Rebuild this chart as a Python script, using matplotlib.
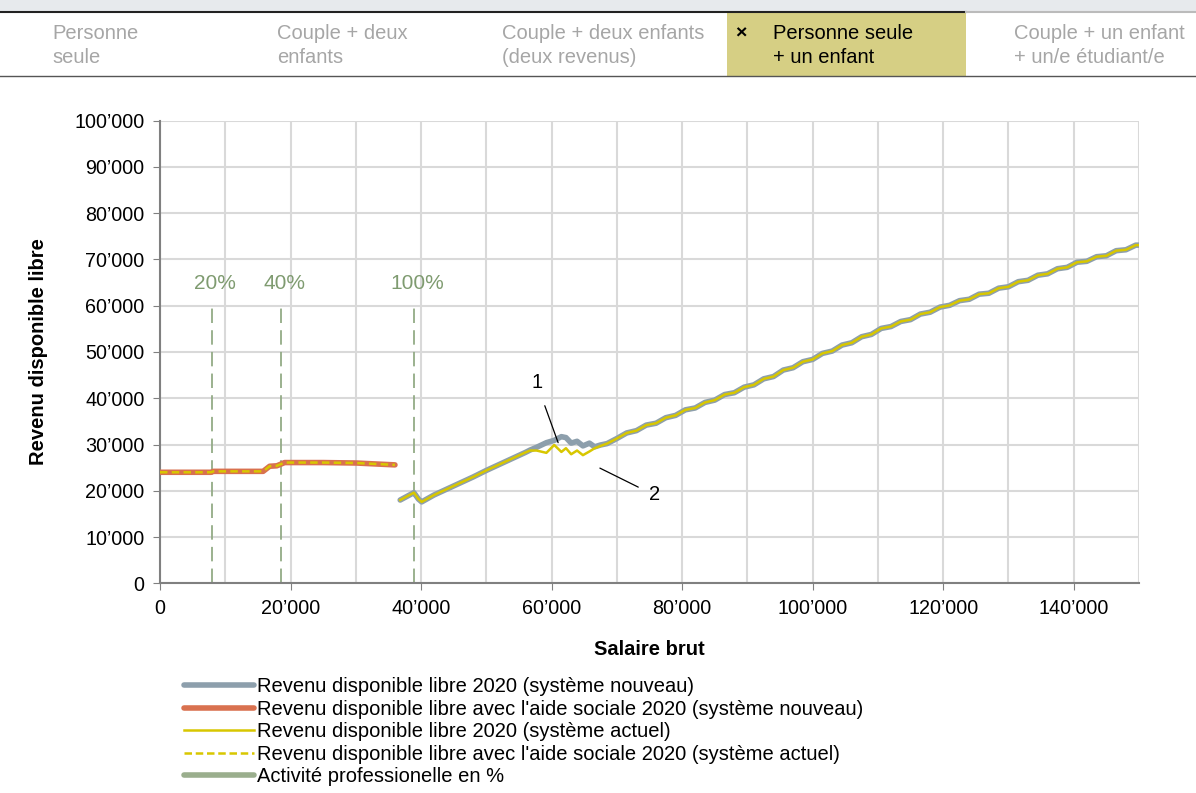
import matplotlib
matplotlib.use('Agg')
import matplotlib.pyplot as plt
from matplotlib.ticker import FuncFormatter, MultipleLocator
from matplotlib.lines import Line2D
from matplotlib.patches import Rectangle

plt.rcParams['font.family'] = ['Liberation Sans', 'DejaVu Sans']

# aide sociale (partie gauche)
x_aide = [0, 7800, 8200, 15800, 16800, 17900, 19100, 25000, 30100, 33000, 36000]
y_aide = [24000, 24000, 24200, 24200, 25300, 25400, 26100, 26100, 26000, 25800, 25600]

# activite professionnelle (partie droite)
x_act = [36800, 38900, 39600, 40100, 42000, 44000, 46000, 48000, 50000, 52000, 54000, 56000,
         56700, 57700, 59200, 60400, 61500, 62200, 63000, 63900, 64800, 65800, 66600, 67500, 68500,
         70000, 71500, 73000, 74500, 76000, 77500, 79000, 80500, 82000, 83500, 85000, 86500,
         88000, 89500, 91000, 92500, 94000, 95500, 97000, 98500, 100000, 101500, 103000, 104500,
         106000, 107500, 109000, 110500, 112000, 113500, 115000, 116500, 118000, 119500, 121000,
         122500, 124000, 125500, 127000, 128500, 130000, 131500, 133000, 134500, 136000, 137500,
         139000, 140500, 142000, 143500, 145000, 146500, 148000, 149500, 150000]
y_nouveau = [18000, 19600, 18200, 17600, 19100, 20400, 21700, 23000, 24400, 25700, 27000, 28300,
             28800, 29400, 30400, 30900, 31700, 31500, 30300, 30700, 29700, 30300, 29500, 29900, 30200,
             31300, 32500, 33000, 34200, 34600, 35800, 36300, 37500, 37900, 39100, 39600, 40800,
             41200, 42400, 42900, 44200, 44700, 46100, 46600, 47900, 48400, 49700, 50200, 51500,
             52000, 53300, 53800, 55100, 55500, 56600, 57000, 58200, 58600, 59700, 60100,
             61100, 61400, 62500, 62700, 63800, 64100, 65200, 65500, 66600, 66900, 68000,
             68300, 69400, 69600, 70600, 70800, 71900, 72100, 73100, 73100]
y_actuel = [18000, 19600, 18200, 17600, 19100, 20400, 21700, 23000, 24400, 25700, 27000, 28300,
            28700, 28700, 28200, 29900, 28400, 29200, 27900, 28700, 27700, 28500, 29200, 29700, 30200,
            31300, 32500, 33000, 34200, 34600, 35800, 36300, 37500, 37900, 39100, 39600, 40800,
            41200, 42400, 42900, 44200, 44700, 46100, 46600, 47900, 48400, 49700, 50200, 51500,
            52000, 53300, 53800, 55100, 55500, 56600, 57000, 58200, 58600, 59700, 60100,
            61100, 61400, 62500, 62700, 63800, 64100, 65200, 65500, 66600, 66900, 68000,
            68300, 69400, 69600, 70600, 70800, 71900, 72100, 73100, 73100]

# taux d'activite
act_x = [7900, 18500, 38900]
act_lbl = ['20%', '40%', '100%']

tabs = ['Personne\nseule', 'Couple + deux\nenfants', 'Couple + deux enfants\n(deux revenus)',
        'Personne seule\n+ un enfant', 'Couple + un enfant\n+ un/e étudiant/e']
tab_x = [52, 277, 502, 773, 1014]
actif = 3

legend_labels = ['Revenu disponible libre 2020 (système nouveau)',
                 "Revenu disponible libre avec l'aide sociale 2020 (système nouveau)",
                 'Revenu disponible libre 2020 (système actuel)',
                 "Revenu disponible libre avec l'aide sociale 2020 (système actuel)",
                 'Activité professionelle en %']

GRIS = '#8d9fac'
ROUGE = '#d9714f'
JAUNE = '#d8c700'
VERT = '#93ab86'
FS = 14.5

W, H = 1196, 793
fig = plt.figure(figsize=(W / 100, H / 100), dpi=100)

# bandeau des onglets
fig.patches.append(Rectangle((0, 1 - 12 / H), 1, 12 / H, transform=fig.transFigure,
                             facecolor='#e7eaed', edgecolor='none'))
fig.patches.append(Rectangle((727 / W, 1 - 76 / H), (966 - 727) / W, 64 / H,
                             transform=fig.transFigure, facecolor='#d6cf84', edgecolor='none'))
fig.add_artist(Line2D([0, 966 / W], [1 - 12 / H, 1 - 12 / H], transform=fig.transFigure,
                      color='#222222', lw=1.5))
fig.add_artist(Line2D([966 / W, 1], [1 - 12 / H, 1 - 12 / H], transform=fig.transFigure,
                      color='#bbbbbb', lw=1.5))
fig.add_artist(Line2D([0, 1], [1 - 75.5 / H, 1 - 75.5 / H], transform=fig.transFigure,
                      color='#555555', lw=1))
for i, t in enumerate(tabs):
    c = 'black' if i == actif else '#a6a6a6'
    fig.text(tab_x[i] / W, 1 - 45.5 / H, t, fontsize=FS, color=c, va='center', ha='left',
             linespacing=1.3)
fig.text(741 / W, 1 - 34 / H, '×', fontsize=14, fontweight='bold', va='center', ha='center')

ax = fig.add_axes([160 / W, 1 - 583.3 / H, (1139 - 160) / W, (583.3 - 120.7) / H])

ax.plot(x_aide, y_aide, color=ROUGE, lw=4, solid_capstyle='round', solid_joinstyle='round', zorder=3)
ax.plot(x_aide, y_aide, color=JAUNE, lw=1.8, dashes=(3, 1.7), zorder=4)
ax.plot(x_act, y_nouveau, color=GRIS, lw=4, solid_capstyle='round', solid_joinstyle='round', zorder=3)
ax.plot(x_act, y_actuel, color=JAUNE, lw=1.8, solid_joinstyle='round', zorder=4)

for xv, lb in zip(act_x, act_lbl):
    ax.plot([xv, xv], [0, 60500], color=VERT, lw=1.3, dashes=(8, 4), zorder=2)
    ax.text(xv + 500, 64900, lb, color='#7f9b70', fontsize=15, ha='center', va='center')

ax.annotate('1', xy=(61000, 30400), xytext=(57700, 43300), fontsize=FS, ha='center', va='center',
            arrowprops=dict(arrowstyle='-', color='black', lw=0.9, shrinkA=8, shrinkB=0))
ax.annotate('2', xy=(67400, 24900), xytext=(75700, 19100), fontsize=FS, ha='center', va='center',
            arrowprops=dict(arrowstyle='-', color='black', lw=0.9, shrinkA=6, shrinkB=0))

ax.set_xlim(0, 150000)
ax.set_ylim(0, 100000)
ax.xaxis.set_major_locator(MultipleLocator(20000))
ax.xaxis.set_minor_locator(MultipleLocator(10000))
ax.yaxis.set_major_locator(MultipleLocator(10000))
fmt = FuncFormatter(lambda v, p: '0' if v == 0 else '{:,.0f}'.format(v).replace(',', '\u2019'))
ax.xaxis.set_major_formatter(fmt)
ax.yaxis.set_major_formatter(fmt)
ax.grid(True, which='both', color='#d9d9d9', lw=1.5, zorder=0)
ax.set_axisbelow(True)
for s in ['top', 'right']:
    ax.spines[s].set_visible(False)
for s in ['left', 'bottom']:
    ax.spines[s].set_color('#808080')
    ax.spines[s].set_linewidth(1.5)
ax.tick_params(axis='both', which='major', length=5, color='#808080', labelsize=14.2, pad=6)
ax.tick_params(axis='x', which='minor', length=0)
ax.set_xlabel('Salaire brut', fontsize=FS, fontweight='bold', labelpad=16)
ax.set_ylabel('Revenu disponible libre', fontsize=FS, fontweight='bold', labelpad=19)

handles = [Line2D([], [], color=GRIS, lw=4, solid_capstyle='round'),
           Line2D([], [], color=ROUGE, lw=4, solid_capstyle='round'),
           Line2D([], [], color=JAUNE, lw=1.8),
           Line2D([], [], color=JAUNE, lw=1.8, dashes=(3, 1.5)),
           Line2D([], [], color='#9aae8d', lw=4, solid_capstyle='round')]
fig.legend(handles, legend_labels, loc='upper left', bbox_to_anchor=(184 / W, 1 - 677 / H),
           frameon=False, fontsize=FS, handlelength=3.5, handletextpad=0.12, labelspacing=0.18,
           borderpad=0, borderaxespad=0)

fig.savefig('out.png', dpi=100)
